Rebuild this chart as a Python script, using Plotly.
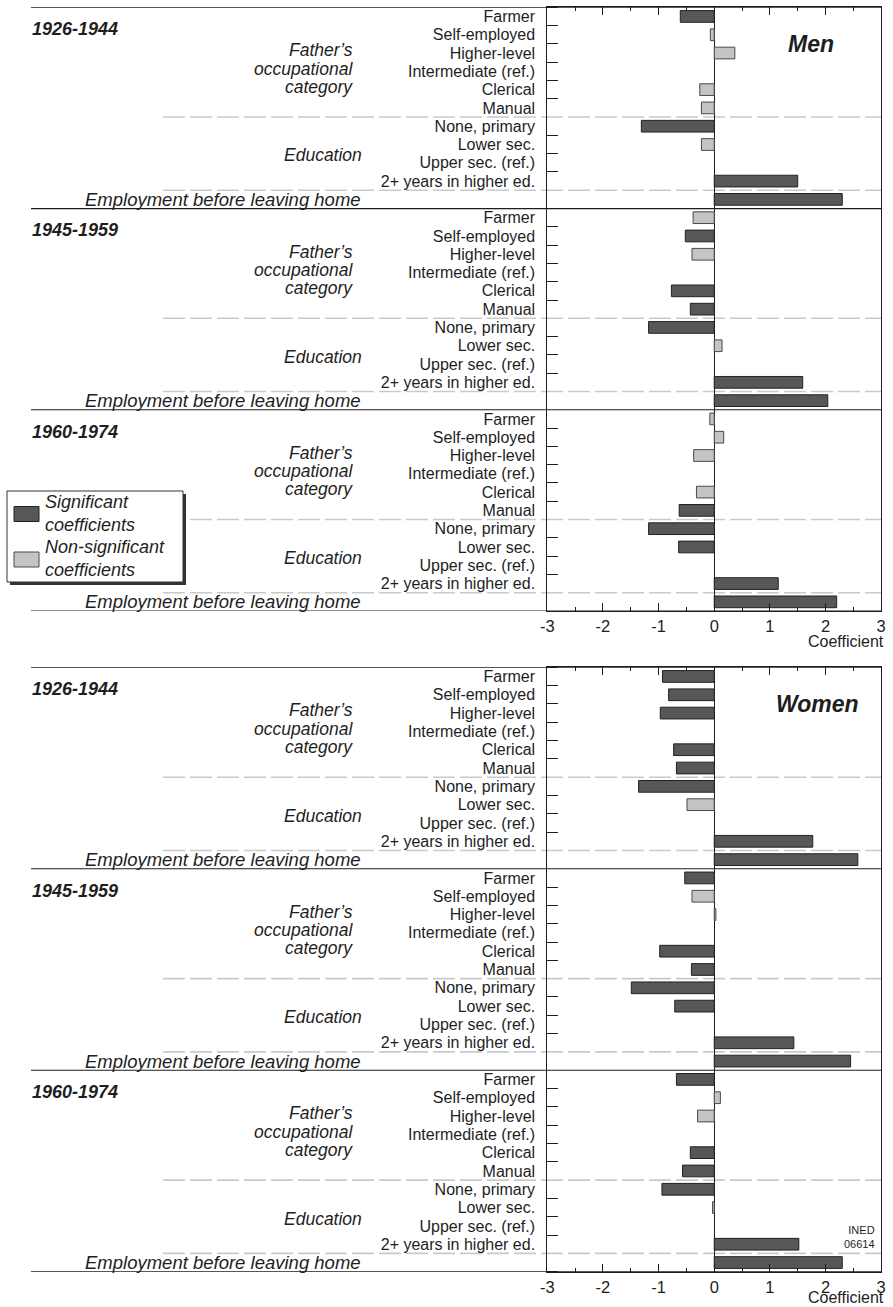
import plotly.graph_objects as go

W, H = 893, 1307
FONT = "Liberation Sans, Arial, Helvetica, sans-serif"
INK = "#1e1e1e"
DARK_FILL = "#575757"
LIGHT_FILL = "#c4c4c6"

row_labels = ["Farmer", "Self-employed", "Higher-level", "Intermediate (ref.)", "Clerical", "Manual",
              "None, primary", "Lower sec.", "Upper sec. (ref.)", "2+ years in higher ed.",
              "Employment before leaving home"]
father_label = ["Father’s", "occupational", "category"]
cohorts = ["1926-1944", "1945-1959", "1960-1974"]
x_ticks = [-3, -2, -1, 0, 1, 2, 3]
x_tick_text = ["-3", "-2", "-1", "0", "1", "2", "3"]
x_minor = [-2.5, -1.5, -0.5, 0.5, 1.5, 2.5]

# coefficients per cohort (None = reference category), 1 = significant
men_1926 = [-0.61, -0.07, 0.37, None, -0.26, -0.23, -1.31, -0.23, None, 1.50, 2.30]
men_1926_sig = [1, 0, 0, 0, 0, 0, 1, 0, 0, 1, 1]
men_1945 = [-0.38, -0.52, -0.40, None, -0.77, -0.43, -1.18, 0.14, None, 1.59, 2.04]
men_1945_sig = [0, 1, 0, 0, 1, 1, 1, 0, 0, 1, 1]
men_1960 = [-0.08, 0.17, -0.37, None, -0.32, -0.63, -1.18, -0.64, None, 1.15, 2.20]
men_1960_sig = [0, 0, 0, 0, 0, 1, 1, 1, 0, 1, 1]

women_1926 = [-0.93, -0.82, -0.97, None, -0.73, -0.68, -1.36, -0.49, None, 1.77, 2.58]
women_1926_sig = [1, 1, 1, 0, 1, 1, 1, 0, 0, 1, 1]
women_1945 = [-0.53, -0.40, 0.03, None, -0.98, -0.41, -1.49, -0.71, None, 1.43, 2.45]
women_1945_sig = [1, 0, 0, 0, 1, 1, 1, 1, 0, 1, 1]
women_1960 = [-0.68, 0.11, -0.30, None, -0.43, -0.57, -0.94, -0.03, None, 1.52, 2.30]
women_1960_sig = [1, 0, 0, 0, 1, 1, 1, 0, 0, 1, 1]

panels = [
    ("Men", 811, [men_1926, men_1945, men_1960], [men_1926_sig, men_1945_sig, men_1960_sig], 7.3, 611.0),
    ("Women", 817, [women_1926, women_1945, women_1960], [women_1926_sig, women_1945_sig, women_1960_sig], 667.3, 1271.7),
]


def px(x):
    return x / W


def py(y):
    return 1 - y / H


n_rows = len(row_labels)
n_total = n_rows * len(cohorts)
fig = go.Figure()
shapes = []
annotations = []

for p, (title, title_x, values, flags, top, bottom) in enumerate(panels):
    xa = "x" if p == 0 else "x2"
    ya = "y" if p == 0 else "y2"
    for sig, fill, edge in ((1, DARK_FILL, "#222222"), (0, LIGHT_FILL, "#4a4a4a")):
        xs, ys = [], []
        for c, (vals, flg) in enumerate(zip(values, flags)):
            for i, (v, f) in enumerate(zip(vals, flg)):
                if v is not None and f == sig:
                    xs.append(v)
                    ys.append(c * n_rows + i)
        fig.add_trace(go.Bar(x=xs, y=ys, orientation="h", width=0.64, xaxis=xa, yaxis=ya,
                             marker=dict(color=fill, line=dict(color=edge, width=1)),
                             hovertemplate="%{x:.2f}<extra></extra>"))

    ticktext = [lab if i < n_rows - 1 else "" for c in cohorts for i, lab in enumerate(row_labels)]
    minor_y = [-0.5, n_total - 0.5]
    for c in range(len(cohorts)):
        minor_y += [c * n_rows + k + 0.5 for k in (0, 1, 2, 3, 4, 6, 7, 8)]

    suffix = "" if p == 0 else "2"
    fig.update_layout(**{
        "xaxis" + suffix: dict(
            domain=[px(547.3), px(881.2)], range=[-3, 3], anchor=ya,
            tickmode="array", tickvals=x_ticks, ticktext=x_tick_text, ticks="inside", ticklen=8,
            tickcolor=INK, showline=True, linecolor=INK, linewidth=1, mirror="ticks",
            zeroline=True, zerolinecolor=INK, zerolinewidth=1.2, showgrid=False,
            minor=dict(tickmode="array", tickvals=x_minor, ticks="inside", ticklen=4, tickcolor=INK),
            tickfont=dict(size=16.5, color=INK, family=FONT), fixedrange=True, automargin=False),
        "yaxis" + suffix: dict(
            domain=[py(bottom), py(top)], range=[n_total - 0.5, -0.5], anchor=xa,
            tickmode="array", tickvals=list(range(n_total)), ticktext=ticktext, ticks="",
            showline=True, linecolor=INK, linewidth=1, mirror=True,
            zeroline=False, showgrid=False, ticklabelstandoff=8,
            minor=dict(tickmode="array", tickvals=minor_y, ticks="inside", ticklen=11, tickcolor=INK),
            tickfont=dict(size=16, color=INK, family=FONT), fixedrange=True, automargin=False),
    })

    # block separators and dashed sub-group lines
    for c in range(len(cohorts) + 1):
        shapes.append(dict(type="line", xref="paper", yref=ya, x0=px(31), x1=px(881.2),
                           y0=c * n_rows - 0.5, y1=c * n_rows - 0.5, line=dict(color=INK, width=1.2)))
    for c in range(len(cohorts)):
        for b in (5.5, 9.5):
            shapes.append(dict(type="line", xref="paper", yref=ya, x0=px(163), x1=px(881.2),
                               y0=c * n_rows + b, y1=c * n_rows + b, layer="below",
                               line=dict(color="#c9c9c9", width=1.6, dash="22px,5px")))

    for c, cohort in enumerate(cohorts):
        base = c * n_rows
        annotations.append(dict(text="<b><i>%s</i></b>" % cohort, xref="paper", yref=ya, x=px(30),
                                y=base + 0.7, xanchor="left", yanchor="middle", showarrow=False,
                                font=dict(size=18, color=INK, family=FONT)))
        for k, line in enumerate(father_label):
            annotations.append(dict(text="<i>%s</i>" % line, xref="paper", yref=ya,
                                    x=px(355), y=base + 1.85 + k, xanchor="right", yanchor="middle",
                                    showarrow=False, font=dict(size=17.5, color=INK, family=FONT)))
        annotations.append(dict(text="<i>Education</i>", xref="paper", yref=ya, x=px(364), y=base + 7.6,
                                xanchor="right", yanchor="middle", showarrow=False,
                                font=dict(size=17.5, color=INK, family=FONT)))
        annotations.append(dict(text="<i>%s</i>" % row_labels[-1], xref="paper", yref=ya, x=px(363),
                                y=base + n_rows - 1, xanchor="right", yanchor="middle", showarrow=False,
                                font=dict(size=18.5, color=INK, family=FONT)))

    # axis title sits just under the tick labels; the lower one is kept inside the page
    coef_y = min(bottom + 30.5, H - 10)
    annotations.append(dict(text="Coefficient", xref="paper", yref="paper", x=px(885), y=py(coef_y),
                            xanchor="right", yanchor="middle", showarrow=False, borderpad=0,
                            font=dict(size=16, color=INK, family=FONT)))
    annotations.append(dict(text="<b><i>%s</i></b>" % title, xref="paper", yref="paper",
                            x=px(title_x), y=py(top + 37), xanchor="center", yanchor="middle",
                            showarrow=False, font=dict(size=23, color=INK, family=FONT)))

annotations.append(dict(text="INED<br>06614", xref="paper", yref="paper", x=px(877), y=py(1237),
                        xanchor="right", yanchor="middle", align="right", showarrow=False,
                        font=dict(size=11, color=INK, family="Liberation Sans Narrow, Arial Narrow, sans-serif")))

# legend box with shadow
shapes.append(dict(type="rect", xref="paper", yref="paper", x0=px(10), x1=px(186), y0=py(585), y1=py(494),
                   fillcolor="#333333", line=dict(width=0)))
shapes.append(dict(type="rect", xref="paper", yref="paper", x0=px(7), x1=px(183), y0=py(582), y1=py(491),
                   fillcolor="white", line=dict(color="#333333", width=1)))
for y0, y1, fill, edge, label in ((506.5, 521.5, DARK_FILL, "#222222", "Significant<br>coefficients"),
                                  (552, 567, LIGHT_FILL, "#4a4a4a", "Non-significant<br>coefficients")):
    shapes.append(dict(type="rect", xref="paper", yref="paper", x0=px(14), x1=px(39), y0=py(y1), y1=py(y0),
                       fillcolor=fill, line=dict(color=edge, width=1)))
    annotations.append(dict(text="<i>%s</i>" % label, xref="paper", yref="paper", x=px(43), y=py(y0 + 7),
                            xanchor="left", yanchor="middle", align="left", showarrow=False,
                            font=dict(size=18, color=INK, family=FONT)))

fig.update_layout(width=W, height=H, margin=dict(l=0, r=0, t=0, b=0), plot_bgcolor="white",
                  paper_bgcolor="white", showlegend=False, barmode="overlay",
                  font=dict(family=FONT, color=INK), shapes=shapes, annotations=annotations)

# the page's default body margin would push the fixed-size figure off the window
fig.write_html("out.html", config={"displayModeBar": False},
               post_script="document.body.style.margin='0';")
